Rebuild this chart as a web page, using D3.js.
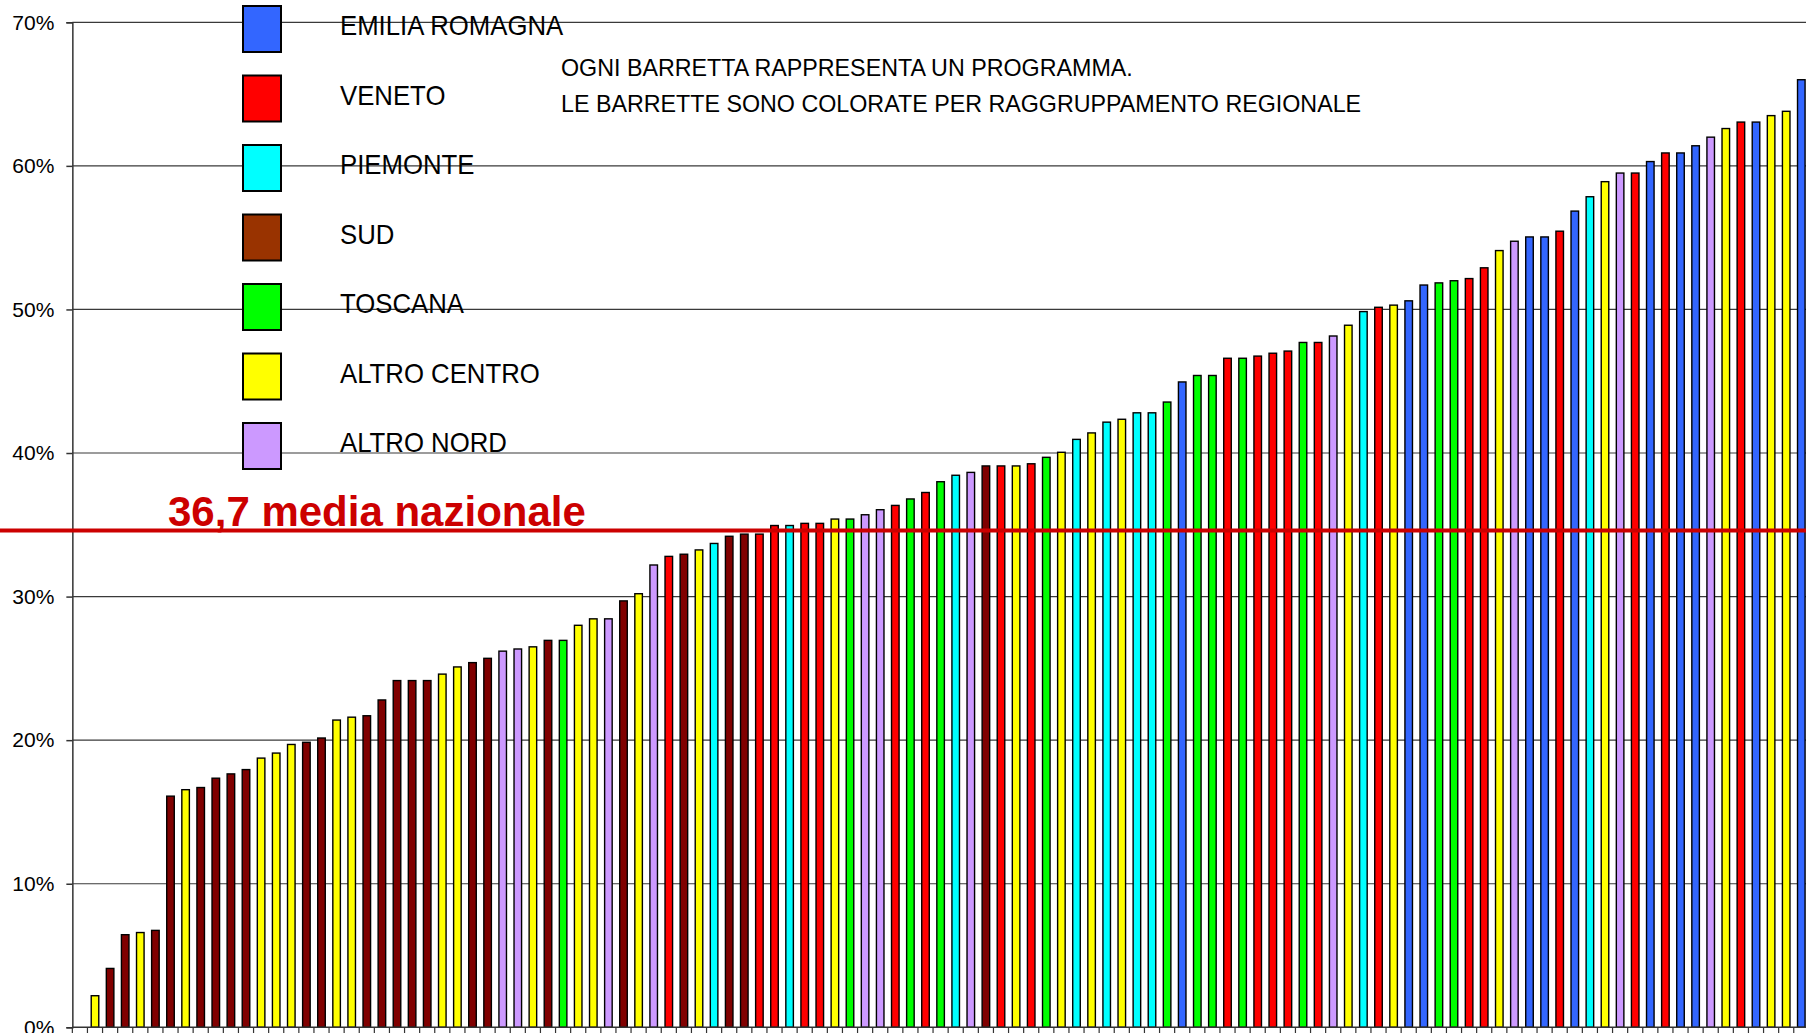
<!DOCTYPE html>
<html>
<head>
<meta charset="utf-8">
<script src="https://cdn.jsdelivr.net/npm/d3@7"></script>
<style>
body { margin: 0; background: #fff; overflow: hidden; }
text { font-family: "Liberation Sans", Arial, sans-serif; }
</style>
</head>
<body>
<div class="chart-container"></div>
<script>
/* Programmi ordinati per percentuale, colorati per raggruppamento regionale
   ========================================================================== */

// Data
var programmi = d3.range(1, 116).map(function(i) { return "P" + i; });

// region code per bar (E emilia, V veneto, P piemonte, S sud, T toscana, C altro centro, N altro nord)
var regioni = ["",
    "C","S","S","C","S","S","C","S","S","S","S","C","C","C","S","S","C","C","S",
    "S","S","S","S","C","C","S","S","N","N","C","S","T","C","C","N","S","C","N",
    "V","S","C","P","S","S","V","V","P","V","V","C","T","N","N","V","T","V","T",
    "P","N","S","V","C","V","T","C","P","C","P","C","P","P","T","E","T","T","V",
    "T","V","V","V","T","V","N","C","P","V","C","E","E","T","T","V","V","C","N",
    "E","E","V","E","P","C","N","V","E","V","E","E","N","C","V","E","C","C","E"];

var valori = [null,
    2.2, 4.1, 6.45, 6.6, 6.75, 16.1, 16.55, 16.7, 17.35, 17.65, 17.95, 18.75, 19.1, 19.7, 19.85, 20.15, 21.4, 21.6, 21.7,
    22.8, 24.15, 24.15, 24.15, 24.6, 25.1, 25.4, 25.7, 26.2, 26.35, 26.5, 26.95, 26.95, 28.0, 28.45, 28.45, 29.7, 30.2, 32.2,
    32.8, 32.95, 33.25, 33.7, 34.2, 34.35, 34.35, 34.95, 34.95, 35.1, 35.1, 35.4, 35.4, 35.7, 36.05, 36.35, 36.8, 37.25, 38.0,
    38.45, 38.65, 39.1, 39.1, 39.1, 39.25, 39.7, 40.05, 40.95, 41.4, 42.15, 42.35, 42.8, 42.8, 43.55, 44.95, 45.4, 45.4, 46.6,
    46.6, 46.75, 46.95, 47.1, 47.7, 47.7, 48.15, 48.9, 49.85, 50.15, 50.3, 50.6, 51.7, 51.85, 52.0, 52.15, 52.9, 54.1, 54.75,
    55.05, 55.05, 55.45, 56.85, 57.85, 58.9, 59.5, 59.5, 60.3, 60.9, 60.9, 61.4, 62.0, 62.6, 63.05, 63.05, 63.5, 63.8, 66.0];

var legendaCodici = ["E", "V", "P", "S", "T", "C", "N"];
var legendaNomi = ["EMILIA ROMAGNA", "VENETO", "PIEMONTE", "SUD", "TOSCANA", "ALTRO CENTRO", "ALTRO NORD"];
var legendaColori = ["#3366ff", "#ff0000", "#00ffff", "#993300", "#00ff00", "#ffff00", "#cc99ff"];
// the bars of SUD are darker than the legend box
var barreColori = ["#3366ff", "#ff0000", "#00ffff", "#800000", "#00ff00", "#ffff00", "#cc99ff"];

var yTicks = [0, 10, 20, 30, 40, 50, 60, 70];
var mediaValore = 34.6;
var mediaEtichetta = "36,7 media nazionale";
var note = ["OGNI BARRETTA RAPPRESENTA UN PROGRAMMA.",
            "LE BARRETTE SONO COLORATE PER RAGGRUPPAMENTO REGIONALE"];

// Set size
var width = 1806,
    height = 1033,
    left = 72.35,
    step = 15.1;

// Set Range
var x = d3.scaleBand()
    .domain(programmi)
    .range([left, left + programmi.length * step])
    .paddingInner(0.5)
    .paddingOuter(0.25);
var y = d3.scaleLinear()
    .domain([0, 70])
    .range([1027.3, 22.3]);
var colore = d3.scaleOrdinal()
    .domain(legendaCodici)
    .range(barreColori);

var svg = d3.select('.chart-container').append("svg")
    .attr("width", width)
    .attr("height", height);

// Gridlines
svg.append("g")
    .selectAll("line")
    .data(yTicks.filter(function(d) { return d > 0; }))
    .enter().append("line")
    .attr("x1", left)
    .attr("x2", width)
    .attr("y1", function(d) { return y(d); })
    .attr("y2", function(d) { return y(d); })
    .attr("stroke", "#3a3a3a")
    .attr("stroke-width", 1.2);

// Y axis
var yAxis = svg.append("g")
    .attr("class", "y-axis")
    .attr("transform", "translate(" + left + ",0)")
    .call(d3.axisLeft(y)
        .tickValues(yTicks)
        .tickSize(6)
        .tickPadding(12)
        .tickFormat(function(d) { return d + "%"; }));
yAxis.select(".domain").attr("stroke", "#333").attr("stroke-width", 1.5);
yAxis.selectAll(".tick line").attr("stroke", "#333").attr("stroke-width", 1.5);
yAxis.selectAll("text")
    .attr("fill", "#000")
    .style("font-size", "21px")
    .style("font-family", "'Liberation Sans', Arial, sans-serif");

// Bars
var dati = programmi.map(function(p, i) {
    return { nome: p, valore: valori[i], regione: regioni[i] };
}).filter(function(d) { return d.valore != null; });

svg.append("g")
    .selectAll(".bar")
    .data(dati)
    .enter().append("rect")
    .attr("class", "bar")
    .attr("x", function(d) { return x(d.nome); })
    .attr("width", x.bandwidth())
    .attr("y", function(d) { return y(d.valore); })
    .attr("height", function(d) { return y(0) - y(d.valore); })
    .attr("fill", function(d) { return colore(d.regione); })
    .attr("stroke", "#000")
    .attr("stroke-width", 1.4);

// X axis: baseline with ticks between categories
var xAxis = svg.append("g").attr("class", "x-axis");
xAxis.append("line")
    .attr("x1", left)
    .attr("x2", width)
    .attr("y1", y(0))
    .attr("y2", y(0))
    .attr("stroke", "#333")
    .attr("stroke-width", 1.5);
xAxis.selectAll(".tick")
    .data(programmi)
    .enter().append("line")
    .attr("class", "tick")
    .attr("x1", function(d) { return x(d) - x.step() * 0.25; })
    .attr("x2", function(d) { return x(d) - x.step() * 0.25; })
    .attr("y1", y(0))
    .attr("y2", y(0) + 7)
    .attr("stroke", "#333")
    .attr("stroke-width", 1.2);

// Media nazionale line
svg.append("line")
    .attr("x1", 0)
    .attr("x2", width)
    .attr("y1", y(mediaValore))
    .attr("y2", y(mediaValore))
    .attr("stroke", "#cc0000")
    .attr("stroke-width", 4);
svg.append("text")
    .attr("x", 168)
    .attr("y", y(mediaValore) - 5)
    .attr("fill", "#cc0000")
    .style("font-size", "42px")
    .style("font-weight", "bold")
    .text(mediaEtichetta);

// Legend
var legenda = svg.append("g")
    .selectAll("g")
    .data(legendaNomi)
    .enter().append("g")
    .attr("transform", function(d, i) { return "translate(243," + (6 + i * 69.5) + ")"; });
legenda.append("rect")
    .attr("width", 38)
    .attr("height", 46)
    .attr("fill", function(d, i) { return legendaColori[i]; })
    .attr("stroke", "#000")
    .attr("stroke-width", 2);
legenda.append("text")
    .attr("transform", "translate(97,29) scale(0.92,1)")
    .attr("fill", "#000")
    .style("font-size", "28px")
    .text(function(d) { return d; });

// Notes
svg.append("g")
    .selectAll("text")
    .data(note)
    .enter().append("text")
    .attr("transform", function(d, i) { return "translate(561," + (76 + i * 36) + ") scale(0.97,1)"; })
    .attr("fill", "#000")
    .style("font-size", "24px")
    .text(function(d) { return d; });
</script>
</body>
</html>
